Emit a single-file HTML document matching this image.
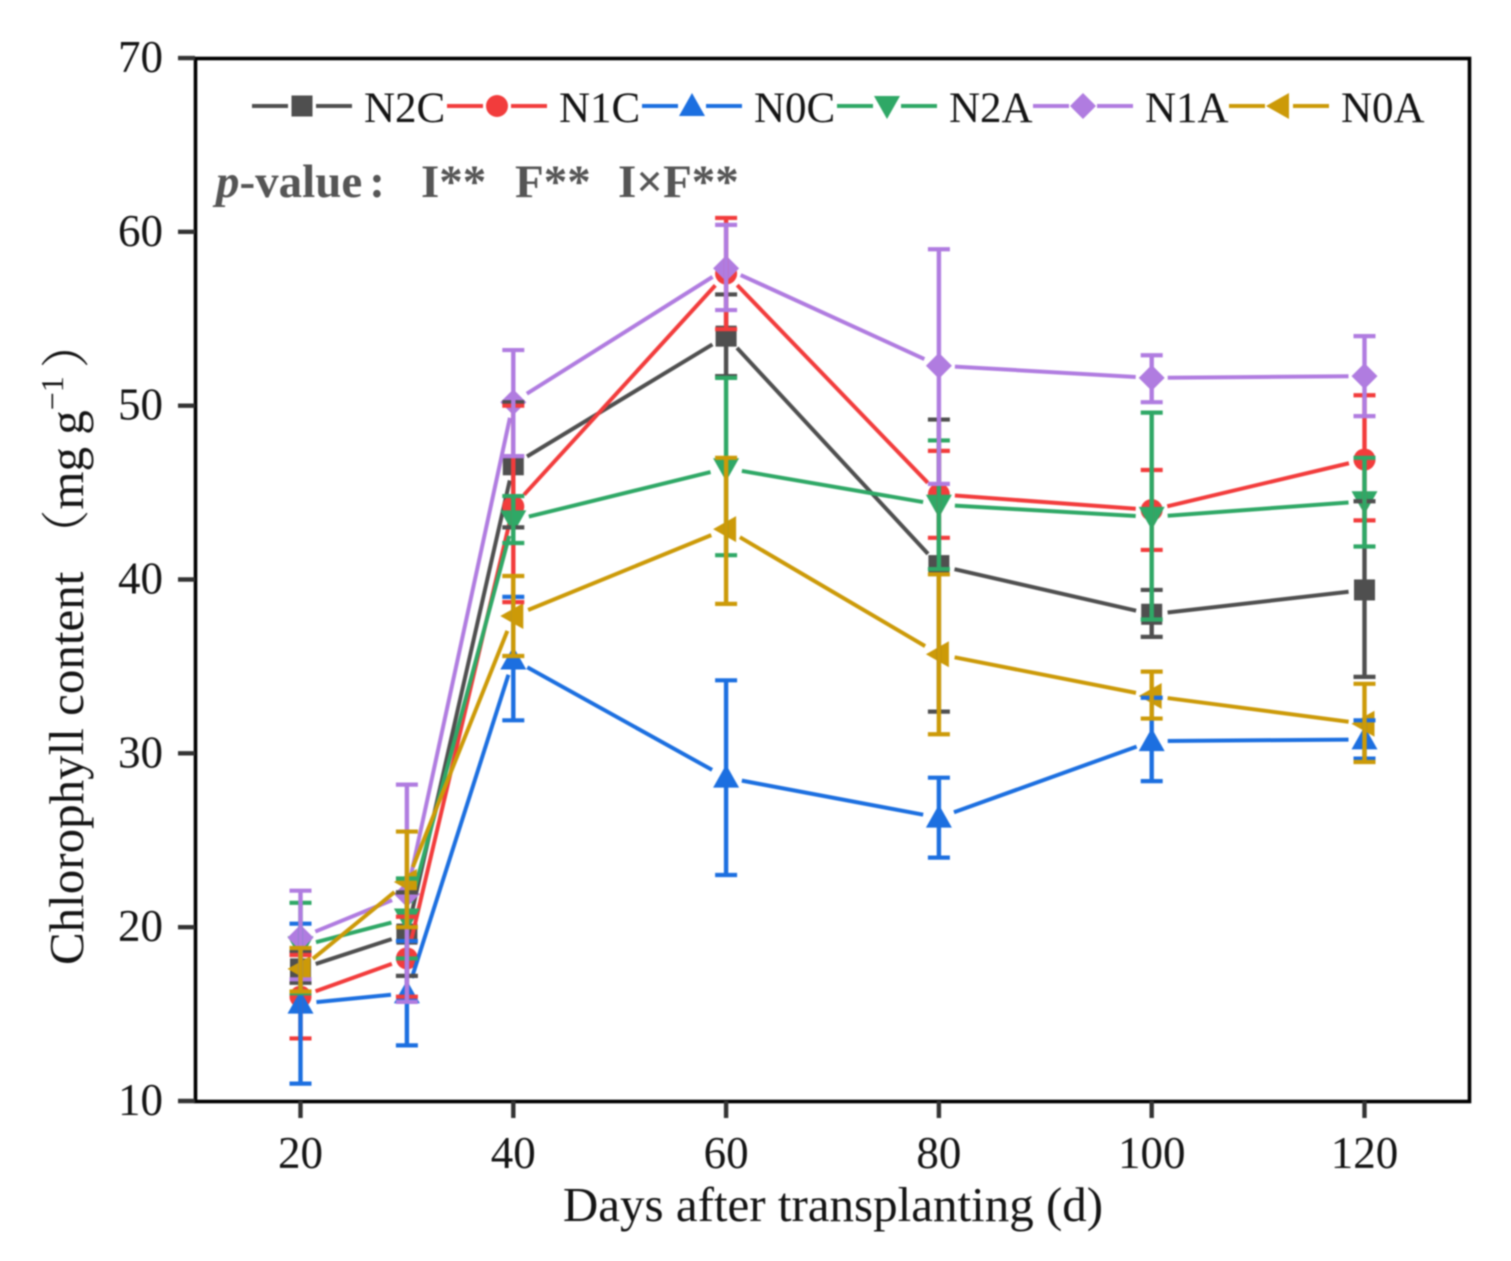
<!DOCTYPE html>
<html lang="en">
<head>
<meta charset="utf-8">
<title>Chlorophyll content chart</title>
<style>
html,body{margin:0;padding:0;background:#fff;width:1511px;height:1261px;overflow:hidden}
svg{display:block;filter:blur(0.8px)}
text{font-family:"Liberation Serif","Noto Serif CJK SC",serif;fill:#141414}
</style>
</head>
<body>
<svg id="chart" xmlns="http://www.w3.org/2000/svg" width="1511" height="1261" viewBox="0 0 1511 1261">
  <rect x="195.5" y="58.5" width="1274" height="1043" fill="none" stroke="#000" stroke-width="3.6"/>
  <g id="grid-ticks"></g>
  <g id="lines"></g>
  <g id="errors"></g>
  <g id="legend"></g>
  <text x="216" y="197" font-size="47" font-weight="bold" style="fill:#555" xml:space="preserve"><tspan font-style="italic">p</tspan>-value<tspan dx="7">:</tspan><tspan x="421">I**</tspan><tspan x="515">F**</tspan><tspan x="618">I×F**</tspan></text>
  <text x="833" y="1221" font-size="49" text-anchor="middle">Days after transplanting (d)</text>
  <text transform="translate(83,965) rotate(-90)" font-size="49">Chlorophyll content<tspan dx="13">（</tspan><tspan>mg g</tspan><tspan font-size="32" dy="-20">−1</tspan><tspan dx="8" dy="20">）</tspan></text>
</svg>
<script>
const days = [20, 30, 40, 60, 80, 100, 120];
const xTickValues = [20, 40, 60, 80, 100, 120];
const xTickLabels = ["20", "40", "60", "80", "100", "120"];
const yTickLabels = [10, 20, 30, 40, 50, 60, 70];

const seriesNames = ["N2C", "N1C", "N0C", "N2A", "N1A", "N0A"];

const valuesN2C = [17.6, 19.6, 46.6, 54.0, 40.8, 38.0, 39.4];
const upperN2C  = [18.6, 22.0, 50.2, 56.4, 49.2, 39.4, 44.5];
const lowerN2C  = [16.8, 17.2, 43.0, 51.7, 32.4, 36.7, 34.4];

const valuesN1C = [16.0, 18.2, 44.2, 57.6, 44.9, 44.0, 46.9];
const upperN1C  = [18.4, 20.6, 50.0, 60.8, 47.4, 46.3, 50.6];
const lowerN1C  = [13.6, 16.0, 38.7, 54.4, 42.4, 41.7, 43.4];

const valuesN0C = [15.6, 16.2, 35.4, 28.6, 26.3, 30.7, 30.8];
const upperN0C  = [20.2, 19.2, 39.0, 34.2, 28.6, 33.2, 31.9];
const lowerN0C  = [11.0, 13.2, 31.9, 23.0, 24.0, 28.4, 29.7];

const valuesN2A = [18.9, 20.5, 43.4, 46.4, 44.3, 43.6, 44.5];
const upperN2A  = [21.4, 22.8, 44.8, 51.6, 48.0, 49.6, 47.0];
const lowerN2A  = [16.2, 18.2, 42.1, 41.4, 40.6, 37.7, 41.9];

const valuesN1A = [19.4, 21.9, 50.2, 57.9, 52.3, 51.6, 51.7];
const upperN1A  = [22.1, 28.2, 53.2, 60.4, 59.0, 52.9, 54.0];
const lowerN1A  = [17.0, 15.7, 47.1, 55.5, 45.5, 50.2, 49.4];

const valuesN0A = [17.6, 22.6, 37.9, 42.9, 35.7, 33.3, 31.7];
const upperN0A  = [18.8, 25.5, 40.2, 47.0, 40.3, 34.7, 34.0];
const lowerN0A  = [16.3, 20.0, 35.6, 38.6, 31.1, 32.0, 29.5];

const SVGNS = "http://www.w3.org/2000/svg";
function xScale(v) { return 300.5 + (v - 20) * 10.64; }
function yScale(v) { return 1101 - (v - 10) * 17.383; }

function make(tag, parent, attrs) {
  const el = document.createElementNS(SVGNS, tag);
  for (const k in attrs) el.setAttribute(k, attrs[k]);
  parent.appendChild(el);
  return el;
}

const seriesList = [
  { name: seriesNames[0], values: valuesN2C, upper: upperN2C, lower: lowerN2C, color: "#4f4f4f", shape: "square" },
  { name: seriesNames[1], values: valuesN1C, upper: upperN1C, lower: lowerN1C, color: "#f23c3c", shape: "circle" },
  { name: seriesNames[2], values: valuesN0C, upper: upperN0C, lower: lowerN0C, color: "#1c6fe0", shape: "up" },
  { name: seriesNames[3], values: valuesN2A, upper: upperN2A, lower: lowerN2A, color: "#2fa866", shape: "down" },
  { name: seriesNames[4], values: valuesN1A, upper: upperN1A, lower: lowerN1A, color: "#b07ce0", shape: "diamond" },
  { name: seriesNames[5], values: valuesN0A, upper: upperN0A, lower: lowerN0A, color: "#cc9a08", shape: "left" }
];

function marker(parent, shape, cx, cy, color) {
  let el;
  if (shape === "square") {
    el = make("rect", parent, { x: cx - 10.5, y: cy - 10.5, width: 21, height: 21, fill: color });
  } else if (shape === "circle") {
    el = make("circle", parent, { cx: cx, cy: cy, r: 11, fill: color });
  } else {
    const r = 13;
    const pts = {
      up: [[cx, cy - r], [cx + r, cy + 10], [cx - r, cy + 10]],
      down: [[cx - r, cy - 10], [cx + r, cy - 10], [cx, cy + r]],
      diamond: [[cx, cy - r], [cx + r, cy], [cx, cy + r], [cx - r, cy]],
      left: [[cx - r, cy], [cx + 10, cy - r], [cx + 10, cy + r]]
    }[shape];
    el = make("polygon", parent, { points: pts.map(p => p.join(",")).join(" "), fill: color });
  }
  return el;
}

/* axis ticks and labels */
const tickG = document.getElementById("grid-ticks");
xTickValues.forEach((d, i) => {
  const t = make("line", tickG, { x1: xScale(d), x2: xScale(d), y1: 1101, y2: 1118, stroke: "#333", "stroke-width": 4.4 });
  
  
  const l = make("text", tickG, { x: xScale(d), y: 1168, "font-size": 45, "text-anchor": "middle" });
  l.textContent = xTickLabels[i];
  
  
});
yTickLabels.forEach(v => {
  const t = make("line", tickG, { x1: 178, x2: 195, y1: yScale(v), y2: yScale(v), stroke: "#333", "stroke-width": 4.4 });
  
  
  const l = make("text", tickG, { x: 163, y: yScale(v) + 14, "font-size": 45, "text-anchor": "end" });
  l.textContent = String(v);
  
  
});

/* lines with gaps around markers, then markers */
const lineG = document.getElementById("lines");
const GAP = 16;
seriesList.forEach(s => {
  const g = make("g", lineG, {});
  
  
  for (let i = 0; i < days.length - 1; i++) {
    const x1 = xScale(days[i]), y1 = yScale(s.values[i]);
    const x2 = xScale(days[i + 1]), y2 = yScale(s.values[i + 1]);
    const len = Math.hypot(x2 - x1, y2 - y1);
    const ux = (x2 - x1) / len, uy = (y2 - y1) / len;
    const seg = make("line", g, {
      x1: x1 + ux * GAP, y1: y1 + uy * GAP, x2: x2 - ux * GAP, y2: y2 - uy * GAP,
      stroke: s.color, "stroke-width": 4
    });
    
    
  }
  days.forEach((d, i) => {
    const m = marker(g, s.shape, xScale(d), yScale(s.values[i]), s.color);
    
    
  });
});

/* error bars above all markers */
const errG = document.getElementById("errors");
seriesList.forEach(s => {
  const g = make("g", errG, {});
  
  
  days.forEach((d, i) => {
    const x = xScale(d), yu = yScale(s.upper[i]), yl = yScale(s.lower[i]);
    const stem = make("line", g, { x1: x, x2: x, y1: yu, y2: yl, stroke: s.color, "stroke-width": 4.4 });
    
    
    const capTop = make("line", g, { x1: x - 11, x2: x + 11, y1: yu, y2: yu, stroke: s.color, "stroke-width": 4.2 });
    
    
    const capBottom = make("line", g, { x1: x - 11, x2: x + 11, y1: yl, y2: yl, stroke: s.color, "stroke-width": 4.2 });
    
    
  });
});

/* legend */
const legendG = document.getElementById("legend");
const legendStep = 195;
seriesList.forEach((s, i) => {
  const x0 = 252 + i * legendStep + (i > 3 ? (i - 3) * 1 : 0);
  const g = make("g", legendG, {});
  
  
  const a = make("line", g, { x1: x0, x2: x0 + 36, y1: 106, y2: 106, stroke: s.color, "stroke-width": 4 });
  
  
  const b = make("line", g, { x1: x0 + 64, x2: x0 + 100, y1: 106, y2: 106, stroke: s.color, "stroke-width": 4 });
  
  
  const m = marker(g, s.shape, x0 + 50, 106, s.color);
  
  
  const t = make("text", g, { x: x0 + 112, y: 122, "font-size": 43 });
  t.textContent = s.name;
  
  
});
</script>
</body>
</html>
